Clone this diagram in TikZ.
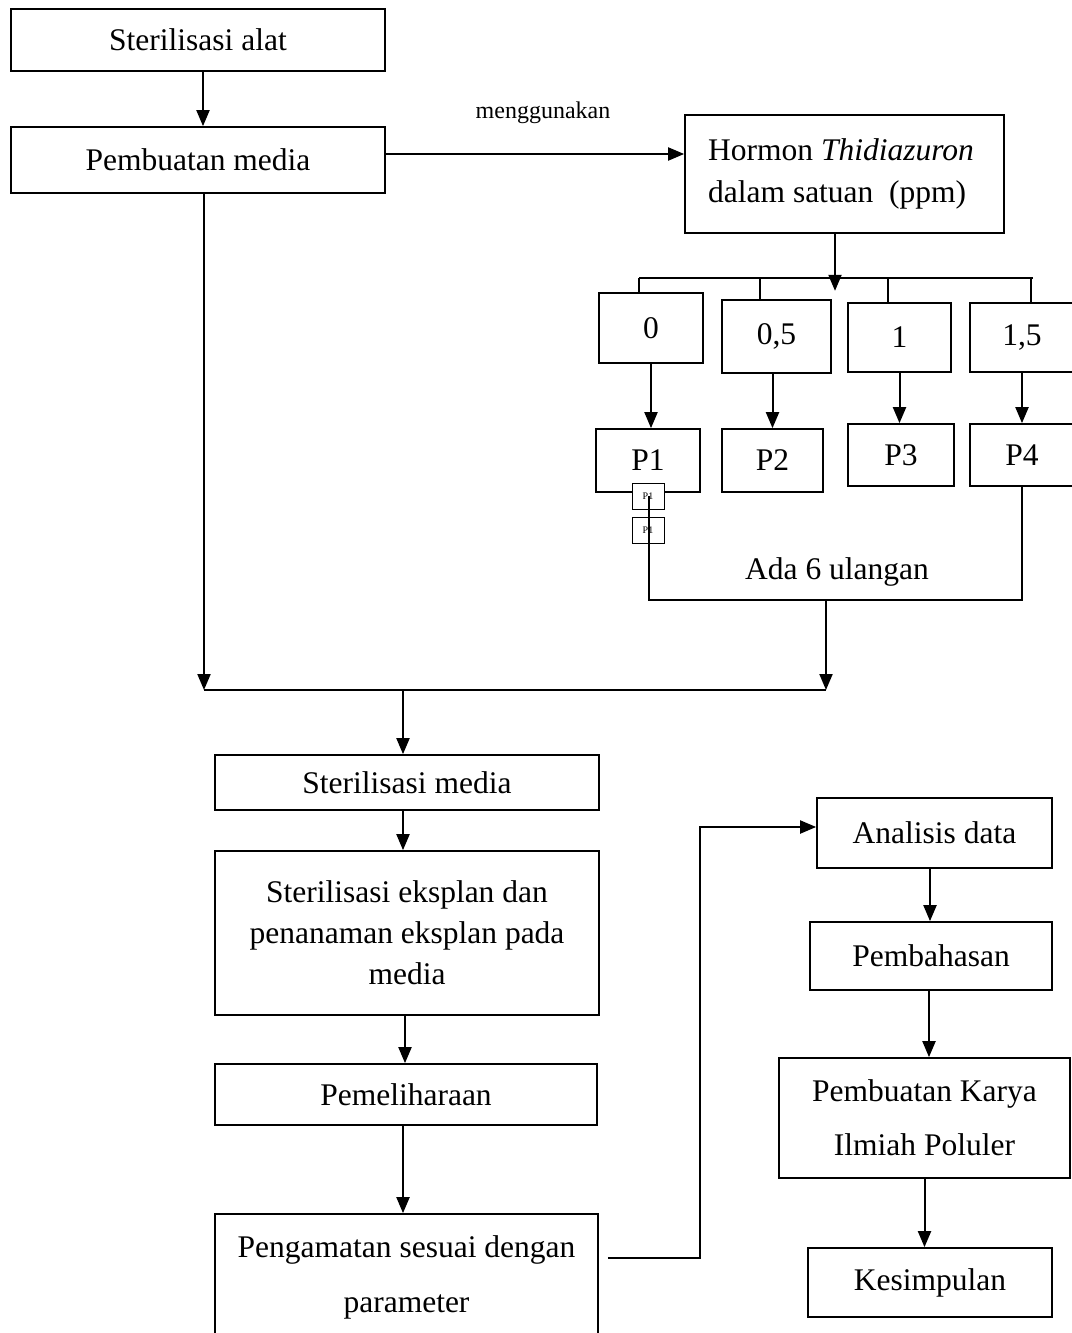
\documentclass[tikz,border=0pt]{standalone}
\usepackage{fontspec}
\setmainfont{Liberation Serif}
\usetikzlibrary{arrows.meta,calc}
\begin{document}
\begin{tikzpicture}[x=1pt,y=-1pt,
 box/.style={draw,line width=1.7pt,inner sep=0pt,font=\fontsize{31.5}{40}\selectfont},
 arr/.style={line width=2pt,-{Triangle[length=16pt,width=13pt]}},
 ln/.style={line width=2pt},
 tiny/.style={draw,line width=0.8pt,inner sep=0pt,font=\fontsize{10}{12}\selectfont}]
\fill[white] (0,0) rectangle (1071,1333);
\useasboundingbox (0,0) rectangle (1071,1333);
% left column top
\node[box,minimum width=374pt,minimum height=62pt] (alat) at (198,40) {Sterilisasi alat};
\node[box,minimum width=374pt,minimum height=66pt] (media) at (198,160) {Pembuatan media};
\node[box,minimum width=319pt,minimum height=118pt,align=left,font=\fontsize{31.5}{42}\selectfont] (hormon) at (844.5,174) {\hspace*{-7pt}Hormon \textit{Thidiazuron}\\\hspace*{-7pt}dalam satuan~ (ppm)};
% dose boxes
\node[box,minimum width=104pt,minimum height=70pt] (b0) at (651,328) {0};
\node[box,minimum width=109pt,minimum height=73pt] (b05) at (776.5,336.5) {0,5};
\node[box,minimum width=103pt,minimum height=69pt] (b1) at (899.5,337.5) {1};
\node[box,minimum width=104pt,minimum height=69pt] (b15) at (1022,337.5) {1,5};
% P boxes
\node[box,minimum width=104pt,minimum height=63pt] (P1) at (648,460.5) {P1};
\node[box,minimum width=101pt,minimum height=63pt] (P2) at (772.5,460.5) {P2};
\node[box,minimum width=106pt,minimum height=62pt] (P3) at (901,455) {P3};
\node[box,minimum width=104pt,minimum height=62pt] (P4) at (1022,455) {P4};
\node[tiny,fill=white,minimum width=32pt,minimum height=26pt] (sp1) at (648,496) {P1};
\node[tiny,fill=white,minimum width=32pt,minimum height=26pt] (sp2) at (648,530) {P1};
\node[font=\fontsize{31.5}{40}\selectfont,inner sep=0pt] (ada) at (837,572) {Ada 6 ulangan};
% main column
\node[box,minimum width=384pt,minimum height=55pt] (smedia) at (407,782.5) {Sterilisasi media};
\node[box,minimum width=384pt,minimum height=164pt,align=center,font=\fontsize{31.5}{41}\selectfont] (seks) at (407,933) {Sterilisasi eksplan dan\\penanaman eksplan pada\\media};
\node[box,minimum width=382pt,minimum height=61pt] (pem) at (406,1094.5) {Pemeliharaan};
\node[box,minimum width=383pt,minimum height=126pt,align=center,font=\fontsize{31.5}{55}\selectfont] (peng) at (406.5,1277) {Pengamatan sesuai dengan\\parameter};
% right column
\node[box,minimum width=235pt,minimum height=70pt] (anal) at (934.5,833) {Analisis data};
\node[box,minimum width=242pt,minimum height=68pt] (bahas) at (931,956) {Pembahasan};
\node[box,minimum width=291pt,minimum height=120pt,align=center,font=\fontsize{31.5}{54}\selectfont] (karya) at (924.5,1118) {Pembuatan Karya\\Ilmiah Poluler};
\node[box,minimum width=244pt,minimum height=69pt] (kes) at (930,1282.5) {Kesimpulan};
% coordinates
\coordinate (s0) at (639,278);
\coordinate (s05) at (760,278);
\coordinate (s1) at (888,278);
\coordinate (s15) at (1033,278);
\coordinate (u1) at (649,600);
\coordinate (u2) at (1022,600);
\coordinate (u3) at (826,600);
\coordinate (j1) at (204,690);
\coordinate (j2) at (826,690);
\coordinate (j3) at (403,690);
\coordinate (k1) at (700,1258);
\coordinate (k2) at (700,827);
% connectors
\draw[arr] ($(alat.south)+(5,0)$) -- ($(media.north)+(5,0)$);
\draw[arr] ($(media.east)+(0,-6)$) -- node[above=26pt,xshift=8pt,font=\fontsize{24}{28}\selectfont] (meng) {menggunakan} ($(hormon.west)+(0,-20)$);
\draw[ln] (s0) -- (s15);
\draw[arr] ($(hormon.south)+(-9.5,0)$) -- ($(hormon.south)+(-9.5,57)$);
\draw[ln] (s0) -- (s0 |- b0.north);
\draw[ln] (s05) -- (s05 |- b05.north);
\draw[ln] (s1) -- (s1 |- b1.north);
\draw[ln] ([xshift=-2pt]s15) -- ([xshift=-2pt]s15 |- b15.north);
\draw[arr] (b0.south) -- (b0.south |- P1.north);
\draw[arr] (P2.north |- b05.south) -- (P2.north);
\draw[arr] (b1.south) -- (b1.south |- P3.north);
\draw[arr] (b15.south) -- (P4.north);
\draw[ln] ([xshift=1pt]sp1.center) -- (u1) -- (u2) -- (P4.south);
\draw[arr] (u3) -- (j2);
\draw[arr] ($(media.south)+(6,0)$) -- (j1);
\draw[ln] (j1) -- (j2);
\draw[arr] (j3) -- (j3 |- smedia.north);
\draw[arr] (j3 |- smedia.south) -- (j3 |- seks.north);
\draw[arr] ($(seks.south)+(-2,0)$) -- ($(pem.north)+(-1,0)$);
\draw[arr] (j3 |- pem.south) -- (j3 |- peng.north);
\draw[arr] ($(peng.east)+(9,-19)$) -- (k1) -- (k2) -- ($(anal.west)+(0,-6)$);
\draw[arr] ($(anal.south)+(-4.5,0)$) -- ($(anal.south |- bahas.north)+(-4.5,0)$);
\draw[arr] ($(bahas.south)+(-2,0)$) -- ($(bahas.south |- karya.north)+(-2,0)$);
\draw[arr] (karya.south) -- (karya.south |- kes.north);
\end{tikzpicture}
\end{document}
